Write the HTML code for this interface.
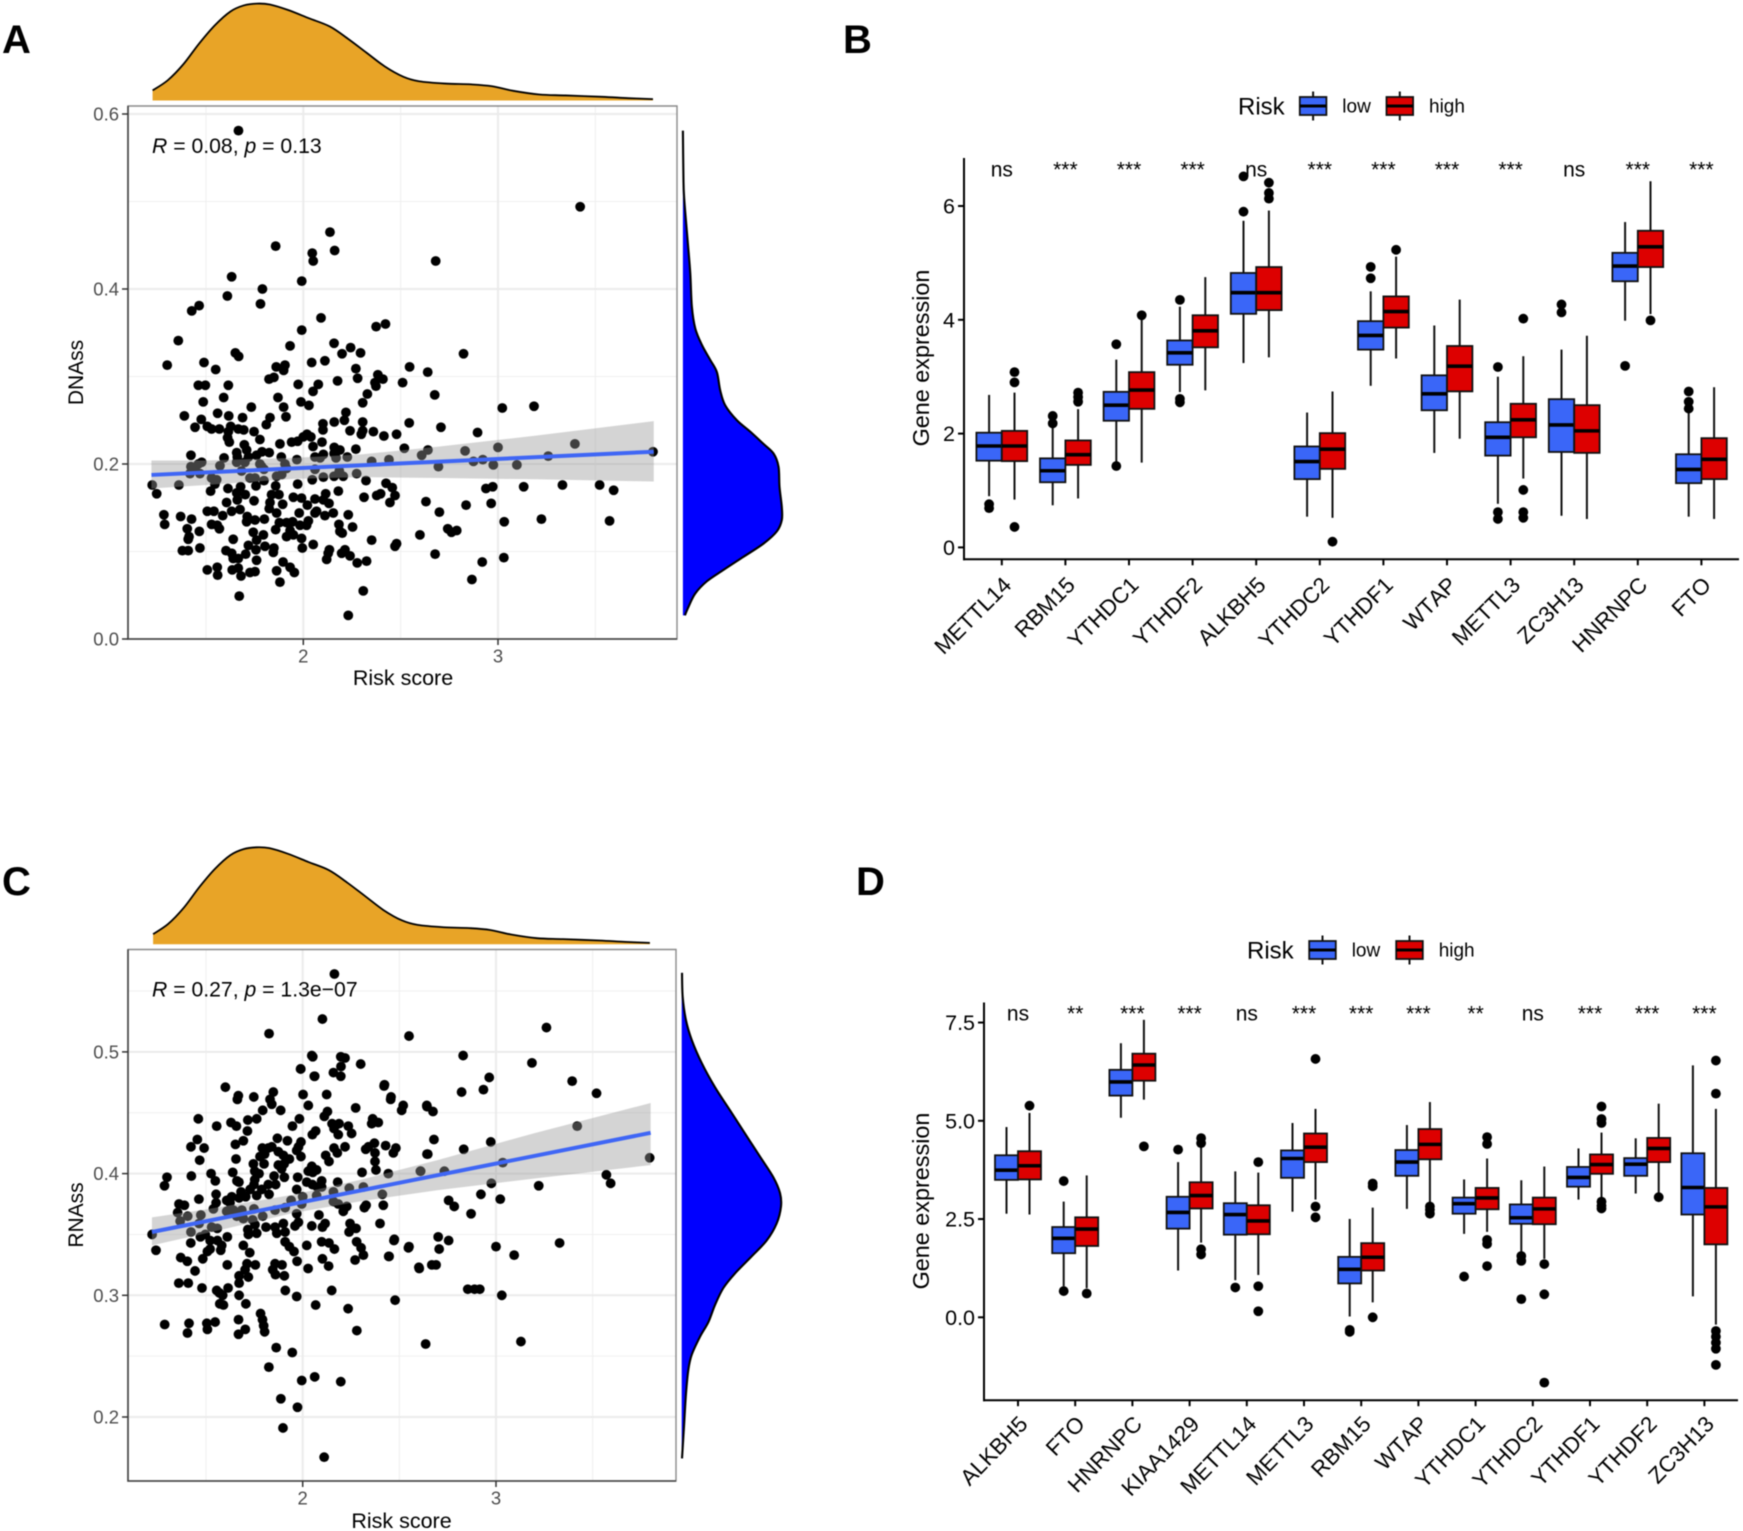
<!DOCTYPE html>
<html lang="en">
<head>
<meta charset="utf-8">
<title>Risk score correlations and m6A gene expression</title>
<style>
html,body{margin:0;padding:0;background:#fff;}
#figure{display:block;width:1743px;height:1531px;font-family:"Liberation Sans",sans-serif;filter:blur(0.45px);}
</style>
</head>
<body>
<svg id="figure" xmlns="http://www.w3.org/2000/svg" width="1743" height="1531" viewBox="0 0 1743 1531">
<rect width="1743" height="1531" fill="#fff"/>
<text x="2" y="53" font-size="40" font-weight="bold">A</text>
<text x="843" y="53" font-size="40" font-weight="bold">B</text>
<text x="2" y="895" font-size="40" font-weight="bold">C</text>
<text x="856" y="895" font-size="40" font-weight="bold">D</text>
<g id="panel-a"></g>
<g id="panel-b"></g>
<g id="panel-c"></g>
<g id="panel-d"></g>
</svg>
<script>
// ---------- shared top marginal density of risk score ----------
const riskDensityX = [1.226,1.304,1.384,1.465,1.546,1.626,1.694,1.761,1.828,1.922,2.030,2.137,2.231,2.325,2.419,2.513,2.594,2.728,2.863,2.970,3.078,3.212,3.347,3.535,3.669,3.796];
const riskDensityY = [.104,.209,.374,.588,.777,.919,.981,1.0,.991,.934,.848,.763,.635,.493,.351,.246,.199,.175,.166,.147,.100,.062,.052,.038,.024,.014];

// ---------- panel A data ----------
const dnassPoints = [[1.358,.341],[1.932,.335],[2.158,.338],[2.243,.333],[2.199,.326],[2.294,.327],[1.651,.327],[1.668,.323],[1.301,.313],[1.490,.316],[1.550,.308],[2.043,.316],[2.111,.318],[1.861,.311],[1.906,.313],[1.899,.307],[2.270,.309],[2.279,.298],[2.383,.302],[2.409,.297],[2.368,.293],[2.373,.289],[2.546,.311],[2.639,.305],[2.510,.293],[2.176,.295],[1.824,.297],[1.849,.299],[1.974,.291],[2.077,.291],[2.050,.283],[1.461,.290],[1.497,.290],[1.615,.290],[1.591,.276],[1.486,.271],[1.870,.276],[1.988,.271],[2.029,.267],[1.899,.265],[1.733,.265],[2.329,.280],[2.305,.270],[2.219,.259],[1.389,.255],[1.560,.258],[1.617,.255],[1.688,.253],[1.476,.251],[1.911,.254],[1.829,.253],[1.810,.245],[2.211,.250],[2.159,.248],[2.101,.246],[2.101,.239],[2.305,.248],[2.544,.247],[1.444,.242],[1.507,.243],[1.529,.240],[1.569,.240],[1.627,.243],[1.615,.237],[1.666,.240],[1.694,.239],[1.747,.237],[2.240,.238],[2.305,.238],[2.298,.234],[2.360,.237],[2.414,.232],[2.479,.234],[1.611,.230],[1.620,.225],[1.777,.228],[1.880,.223],[1.940,.225],[1.971,.226],[2.000,.231],[2.019,.234],[2.039,.231],[2.096,.225],[2.050,.220],[2.159,.219],[2.188,.216],[1.697,.222],[1.709,.216],[1.658,.213],[2.270,.217],[2.519,.218],[2.640,.216],[1.788,.214],[1.825,.213],[1.760,.210],[1.718,.208],[1.423,.210],[1.593,.207],[1.661,.208],[1.887,.208],[1.967,.205],[2.103,.211],[2.060,.208],[2.086,.207],[2.158,.212],[2.168,.207],[2.226,.208],[1.478,.202],[1.461,.200],[1.423,.197],[1.444,.195],[1.572,.198],[1.658,.202],[1.700,.202],[1.777,.200],[1.906,.200],[1.798,.194],[2.060,.194],[2.351,.203],[2.440,.205],[2.608,.210],[1.418,.189],[1.469,.189],[1.683,.192],[1.786,.197],[1.914,.195],[2.185,.192],[2.274,.189],[2.158,.186],[2.205,.186],[1.529,.184],[1.555,.182],[1.726,.184],[1.752,.184],[1.798,.181],[1.863,.186],[1.889,.188],[2.046,.182],[2.103,.185],[2.322,.181],[2.425,.178],[1.224,.176],[1.361,.176],[1.546,.177],[1.757,.175],[1.858,.175],[1.971,.177],[2.457,.173],[1.613,.172],[1.678,.174],[1.524,.169],[1.658,.167],[2.180,.169],[1.247,.166],[1.702,.165],[1.837,.165],[1.875,.165],[1.949,.162],[1.991,.161],[2.060,.160],[2.115,.166],[2.312,.162],[2.377,.164],[2.397,.166],[2.471,.164],[1.661,.159],[1.747,.158],[1.606,.156],[1.829,.156],[1.894,.154],[2.021,.153],[2.103,.159],[2.132,.155],[2.445,.156],[2.630,.157],[1.507,.146],[1.541,.146],[1.632,.146],[1.675,.148],[1.825,.149],[1.863,.144],[1.979,.144],[2.068,.146],[2.154,.144],[2.231,.142],[1.284,.142],[1.370,.140],[1.426,.137],[1.586,.141],[1.712,.140],[1.752,.136],[1.800,.137],[2.111,.141],[2.060,.144],[1.709,.134],[1.529,.131],[1.558,.130],[1.569,.126],[1.288,.131],[1.404,.126],[1.466,.123],[1.877,.133],[1.914,.133],[1.945,.134],[2.026,.135],[1.983,.130],[2.183,.131],[2.253,.128],[1.858,.125],[1.932,.124],[2.017,.130],[2.188,.123],[1.413,.117],[1.409,.114],[1.743,.122],[1.795,.119],[1.914,.117],[1.949,.119],[1.991,.115],[1.760,.113],[2.351,.113],[2.599,.119],[1.640,.114],[2.200,.121],[1.718,.107],[1.803,.106],[1.849,.104],[1.469,.104],[1.379,.101],[1.409,.101],[1.603,.101],[1.757,.102],[1.995,.104],[2.051,.108],[2.479,.109],[2.471,.106],[2.134,.102],[1.846,.099],[2.214,.102],[2.197,.098],[1.632,.098],[1.704,.097],[2.128,.098],[1.640,.092],[1.666,.092],[2.120,.091],[2.240,.095],[1.760,.090],[1.896,.088],[2.277,.087],[2.325,.089],[1.507,.079],[1.558,.082],[1.560,.073],[1.635,.079],[1.666,.081],[1.680,.072],[1.726,.076],[1.752,.077],[1.863,.078],[1.932,.082],[1.954,.076],[1.880,.065],[1.671,.049],[2.308,.055],[2.231,.027],[1.667,.581],[3.422,.494],[2.137,.465],[1.858,.449],[2.046,.441],[2.161,.444],[2.051,.432],[2.680,.432],[1.632,.414],[1.992,.409],[1.790,.400],[1.610,.392],[1.780,.383],[1.465,.381],[1.427,.375],[2.091,.367],[2.374,.357],[2.422,.360],[1.992,.353],[2.823,.326],[2.675,.279],[3.185,.266],[3.022,.264],[2.707,.242],[2.895,.236],[3.395,.223],[3.000,.219],[2.831,.215],[3.258,.209],[2.922,.205],[2.874,.203],[2.976,.199],[3.097,.199],[2.694,.197],[3.796,.214],[2.938,.172],[2.973,.174],[3.132,.174],[3.331,.176],[3.522,.176],[3.594,.170],[2.699,.145],[2.836,.153],[2.965,.155],[3.032,.134],[3.223,.137],[3.573,.135],[2.742,.126],[2.761,.122],[2.788,.124],[2.677,.097],[2.919,.088],[3.030,.093],[2.866,.068]];
const dnassFitX = [1.22,3.80];
const dnassFitY = [.1875,.214];
const dnassBandX = [1.22,1.5,1.95,2.3,2.7,3.2,3.8];
const dnassBandLo = [.172,.176,.183,.185,.184,.1825,.180];
const dnassBandHi = [.204,.204,.207,.211,.220,.2325,.249];
const dnassDensityY = [.581,.530,.505,.456,.418,.380,.355,.336,.319,.305,.284,.267,.250,.237,.223,.212,.197,.174,.151,.136,.123,.109,.094,.079,.066,.052,.037,.027];
const dnassDensity = [0,.005,.012,.047,.074,.090,.124,.191,.274,.341,.375,.425,.542,.676,.809,.910,.960,.970,.993,.993,.943,.809,.609,.408,.241,.124,.057,.02];
const dnassYTicks = [0,0.2,0.4,0.6];
const dnassYMinor = [0.1,0.3,0.5];

// ---------- panel C data ----------
const rnassPoints = [[2.102,.527],[1.826,.515],[2.550,.513],[2.047,.497],[2.052,.496],[2.197,.496],[2.219,.495],[2.300,.490],[2.198,.488],[1.990,.486],[2.060,.480],[2.159,.483],[2.197,.480],[2.421,.472],[1.600,.471],[1.848,.467],[2.002,.465],[2.124,.465],[1.667,.464],[1.662,.461],[1.747,.463],[2.457,.463],[2.455,.461],[1.831,.461],[1.840,.457],[2.029,.456],[1.793,.452],[1.886,.452],[2.520,.456],[2.512,.452],[2.274,.454],[2.643,.455],[2.128,.451],[2.112,.447],[1.460,.445],[1.716,.444],[1.762,.445],[1.983,.445],[1.629,.442],[1.657,.439],[1.555,.439],[1.947,.439],[1.714,.435],[2.152,.441],[2.188,.441],[2.162,.437],[2.236,.439],[2.184,.432],[2.253,.433],[2.357,.441],[2.391,.442],[2.362,.445],[2.067,.435],[2.050,.432],[1.869,.429],[1.455,.428],[1.693,.427],[1.921,.427],[1.991,.426],[1.978,.422],[1.652,.424],[1.422,.422],[1.490,.421],[1.791,.421],[1.840,.422],[1.822,.421],[2.219,.422],[2.162,.421],[2.179,.417],[2.371,.425],[2.340,.422],[2.326,.420],[2.429,.423],[2.482,.421],[2.469,.417],[1.874,.418],[1.900,.415],[1.969,.419],[1.991,.414],[2.374,.417],[2.643,.416],[2.119,.415],[2.136,.410],[1.803,.416],[1.779,.414],[1.467,.411],[1.655,.412],[1.931,.412],[1.745,.408],[1.800,.408],[2.374,.410],[1.874,.407],[1.904,.408],[1.891,.404],[2.047,.406],[2.029,.402],[2.072,.403],[2.052,.401],[2.379,.403],[1.752,.402],[1.774,.400],[1.424,.398],[1.526,.400],[1.638,.401],[1.852,.398],[1.905,.397],[1.974,.397],[2.307,.401],[2.443,.400],[2.610,.402],[1.298,.397],[1.285,.390],[1.548,.394],[1.660,.394],[1.670,.393],[1.752,.395],[1.748,.391],[1.822,.391],[1.860,.391],[2.021,.393],[2.050,.391],[2.076,.389],[2.098,.394],[2.098,.389],[2.181,.393],[1.969,.387],[1.788,.387],[1.728,.387],[1.762,.382],[1.826,.383],[1.681,.385],[1.552,.383],[1.463,.379],[1.705,.381],[1.671,.380],[1.633,.381],[1.607,.378],[1.624,.376],[1.552,.376],[1.538,.371],[1.360,.375],[1.388,.374],[1.353,.368],[1.405,.365],[1.366,.361],[1.473,.366],[1.607,.369],[1.641,.370],[1.685,.370],[1.659,.365],[1.693,.363],[1.748,.371],[1.741,.362],[1.793,.365],[1.857,.370],[1.909,.372],[1.940,.378],[2.000,.381],[1.995,.375],[2.072,.382],[2.159,.385],[2.159,.377],[2.184,.375],[2.241,.388],[2.314,.389],[2.412,.383],[2.417,.374],[2.328,.374],[2.319,.372],[2.228,.373],[2.210,.369],[1.969,.367],[2.084,.366],[1.529,.356],[1.558,.355],[1.422,.352],[1.464,.359],[1.221,.350],[1.716,.354],[1.719,.350],[1.753,.358],[1.762,.351],[1.810,.356],[1.857,.356],[1.866,.351],[1.900,.359],[1.909,.352],[1.960,.357],[1.978,.360],[2.047,.357],[2.102,.356],[2.116,.359],[2.245,.359],[2.276,.355],[2.240,.352],[2.400,.359],[1.610,.348],[1.471,.348],[1.496,.350],[1.521,.345],[1.559,.345],[1.581,.341],[1.421,.343],[1.521,.338],[1.507,.336],[1.576,.337],[1.693,.341],[1.909,.344],[1.931,.340],[1.955,.336],[2.021,.341],[2.098,.344],[2.136,.343],[2.164,.338],[2.279,.344],[2.302,.339],[2.314,.333],[2.271,.329],[2.472,.345],[2.547,.339],[1.241,.337],[1.726,.335],[1.369,.331],[1.403,.328],[1.483,.330],[1.971,.328],[2.102,.330],[2.447,.332],[1.755,.325],[1.712,.326],[1.857,.326],[1.893,.325],[1.610,.325],[2.134,.324],[2.028,.322],[2.603,.322],[1.443,.320],[1.702,.321],[1.845,.321],[1.859,.317],[1.905,.316],[1.671,.316],[1.719,.315],[1.359,.310],[1.408,.310],[1.671,.310],[1.479,.306],[1.614,.306],[1.555,.304],[1.569,.302],[1.586,.300],[1.910,.304],[2.150,.304],[1.671,.300],[1.969,.299],[2.478,.296],[1.571,.293],[1.590,.292],[1.706,.293],[2.067,.292],[2.235,.289],[1.782,.285],[1.286,.276],[1.412,.277],[1.504,.277],[1.507,.272],[1.547,.278],[1.668,.280],[1.792,.280],[1.798,.275],[1.803,.270],[1.703,.272],[1.668,.268],[1.404,.269],[2.280,.271],[1.863,.257],[1.946,.253],[2.636,.260],[3.129,.262],[1.825,.241],[1.995,.230],[2.062,.233],[2.197,.229],[1.887,.215],[1.973,.208],[1.898,.191],[2.111,.167],[2.164,.564],[3.261,.520],[2.830,.497],[3.186,.491],[1.989,.486],[2.062,.480],[2.965,.479],[2.423,.473],[3.394,.476],[2.822,.467],[2.935,.469],[3.520,.466],[2.642,.456],[2.674,.451],[3.420,.439],[2.833,.420],[2.973,.426],[2.679,.428],[2.647,.416],[3.035,.409],[3.795,.413],[2.609,.402],[2.733,.402],[3.571,.399],[3.593,.392],[2.976,.392],[3.221,.390],[2.922,.383],[3.022,.379],[2.755,.378],[2.784,.373],[2.871,.367],[3.329,.343],[2.701,.348],[2.755,.345],[3.000,.340],[2.706,.338],[3.094,.333],[2.550,.340],[2.474,.346],[2.445,.332],[2.601,.323],[2.668,.325],[2.690,.325],[2.854,.305],[2.889,.305],[2.916,.305],[3.030,.300]];
const rnassFitX = [1.22,3.80];
const rnassFitY = [.352,.4335];
const rnassBandX = [1.22,1.5,1.95,2.3,2.7,3.2,3.8];
const rnassBandLo = [.341,.351,.3676,.3773,.3864,.396,.407];
const rnassBandHi = [.364,.3706,.3826,.3949,.4112,.4333,.458];
const rnassDensityY = [.565,.545,.526,.510,.491,.471,.452,.433,.414,.397,.384,.373,.359,.345,.332,.318,.306,.292,.278,.266,.251,.239,.219,.192,.166];
const rnassDensity = [.003,.01,.043,.10,.2,.334,.485,.635,.786,.92,.987,.997,.953,.853,.702,.535,.418,.334,.268,.184,.1,.067,.043,.023,.003];
const rnassYTicks = [0.2,0.3,0.4,0.5];
const rnassYMinor = [0.25,0.35,0.45,0.55];

const riskXTicks = [2,3];
const riskXMinor = [1.5,2.5,3.5];

// ---------- panel B data: [whisker-low, q1, median, q3, whisker-high, outliers] ----------
const bGenes = ["METTL14","RBM15","YTHDC1","YTHDF2","ALKBH5","YTHDC2","YTHDF1","WTAP","METTL3","ZC3H13","HNRNPC","FTO"];
const bSignif = ["ns","***","***","***","ns","***","***","***","***","ns","***","***"];
const bYTicks = [0,2,4,6];
const bLow = [
[.90,1.524,1.782,2.016,2.68,[.76,.69]],
[.74,1.145,1.347,1.565,2.12,[2.31,2.18]],
[1.51,2.226,2.5,2.734,3.3,[3.57,1.43]],
[2.73,3.21,3.42,3.637,4.23,[4.35,2.61,2.55]],
[3.24,4.105,4.476,4.823,5.74,[6.52,5.9]],
[.54,1.2,1.508,1.774,2.37,[]],
[2.84,3.476,3.726,3.976,4.5,[4.93,4.73]],
[1.66,2.41,2.70,3.024,3.9,[]],
[.766,1.613,1.935,2.2,3.0,[3.17,.62,.5]],
[.556,1.677,2.153,2.605,3.476,[4.27,4.13]],
[3.984,4.677,4.944,5.177,5.718,[3.19]],
[.54,1.129,1.371,1.637,2.395,[2.74,2.56,2.44]]];
const bHigh = [
[.84,1.516,1.782,2.048,2.72,[3.08,2.90,.36]],
[.86,1.45,1.63,1.88,2.43,[2.72,2.64,2.56]],
[1.49,2.435,2.766,3.08,4.05,[4.08]],
[2.76,3.516,3.806,4.08,4.75,[]],
[3.34,4.17,4.476,4.927,5.92,[6.41,6.23,6.13]],
[.52,1.38,1.726,2.008,2.74,[.1]],
[3.32,3.863,4.145,4.411,5.11,[5.23]],
[1.91,2.742,3.185,3.54,4.355,[]],
[1.21,1.935,2.242,2.524,3.36,[4.02,1.01,.62,.52]],
[.5,1.661,2.048,2.5,3.72,[]],
[4.1,4.927,5.282,5.565,6.435,[3.99]],
[.5,1.2,1.548,1.92,2.815,[]]];

// ---------- panel D data ----------
const dGenes = ["ALKBH5","FTO","HNRNPC","KIAA1429","METTL14","METTL3","RBM15","WTAP","YTHDC1","YTHDC2","YTHDF1","YTHDF2","ZC3H13"];
const dSignif = ["ns","**","***","***","ns","***","***","***","**","ns","***","***","***"];
const dYTicks = [0,2.5,5,7.5];
const dYTickLabels = ["0.0","2.5","5.0","7.5"];
const dLow = [
[2.636,3.497,3.744,4.123,4.841,[]],
[.79,1.631,2.01,2.297,2.944,[3.467,.667]],
[5.077,5.641,5.99,6.297,6.974,[]],
[1.19,2.256,2.667,3.067,3.949,[4.267]],
[.944,2.103,2.615,2.903,3.713,[.759]],
[2.687,3.549,4.041,4.246,4.944,[]],
[.02,.862,1.221,1.538,2.503,[-.32,-.37]],
[2.759,3.6,3.949,4.256,4.892,[]],
[2.123,2.636,2.892,3.046,3.508,[1.036]],
[1.662,2.379,2.533,2.872,3.487,[1.56,1.436,.462]],
[2.995,3.323,3.559,3.826,4.297,[]],
[3.149,3.6,3.897,4.051,4.554,[]],
[.533,2.615,3.303,4.174,6.41,[]]];
const dHigh = [
[2.615,3.508,3.856,4.226,5.2,[5.385]],
[.74,1.815,2.246,2.544,3.61,[.605]],
[5.538,6.02,6.42,6.708,7.569,[4.349]],
[1.9,2.769,3.097,3.436,4.38,[4.56,4.43,1.73,1.6]],
[1.077,2.113,2.451,2.851,3.682,[3.949,.79,.154]],
[2.995,3.949,4.328,4.677,5.303,[6.574,2.82,2.544]],
[.38,1.19,1.528,1.887,2.79,[3.405,3.333,0]],
[2.892,4.02,4.4,4.79,5.477,[2.82,2.74,2.636]],
[2.174,2.749,3.036,3.292,4.041,[4.585,4.41,1.97,1.867,1.303]],
[1.487,2.369,2.759,3.046,3.836,[1.354,.585,-1.662]],
[2.995,3.651,3.887,4.144,4.7,[5.364,5.046,4.944,2.944,2.841,2.77]],
[3.149,3.949,4.297,4.564,5.436,[3.056]],
[-.185,1.856,2.81,3.292,5.303,[6.533,5.692,-.349,-.492,-.646,-.8,-1.21]]];

// ---------- drawing helpers ----------
const SVGNS = "http://www.w3.org/2000/svg";
function mk(parent, tag, attrs, name, text) {
  const el = document.createElementNS(SVGNS, tag);
  for (const k in attrs) el.setAttribute(k, attrs[k]);
  
  
  if (text !== undefined) el.textContent = text;
  parent.appendChild(el);
  return el;
}
function smooth(pts) {
  let d = "M" + pts[0][0].toFixed(2) + " " + pts[0][1].toFixed(2);
  for (let i = 0; i < pts.length - 1; i++) {
    const p0 = pts[Math.max(i - 1, 0)], p1 = pts[i], p2 = pts[i + 1], p3 = pts[Math.min(i + 2, pts.length - 1)];
    const c1x = p1[0] + (p2[0] - p0[0]) / 6, c1y = p1[1] + (p2[1] - p0[1]) / 6;
    const c2x = p2[0] - (p3[0] - p1[0]) / 6, c2y = p2[1] - (p3[1] - p1[1]) / 6;
    d += "C" + c1x.toFixed(2) + " " + c1y.toFixed(2) + " " + c2x.toFixed(2) + " " + c2y.toFixed(2) + " " + p2[0].toFixed(2) + " " + p2[1].toFixed(2);
  }
  return d;
}

function drawScatter(cfg) {
  const g = document.getElementById(cfg.id);
  const sx = v => cfg.x2 + cfg.xk * (v - 2);
  const sy = v => cfg.yOrigin - cfg.yk * (v - cfg.yBase);
  const L = cfg.left, R = cfg.right, T = cfg.top, B = cfg.bottom;
  mk(g, "rect", {x: L, y: T, width: R - L, height: B - T, fill: "#fff"}, "plot-background");
  cfg.yMinor.forEach(v => mk(g, "line", {x1: L, x2: R, y1: sy(v), y2: sy(v), stroke: "#efefef", "stroke-width": 1}, "minor-gridline-y"));
  riskXMinor.forEach(v => mk(g, "line", {x1: sx(v), x2: sx(v), y1: T, y2: B, stroke: "#efefef", "stroke-width": 1}, "minor-gridline-x"));
  cfg.yTicks.forEach(v => mk(g, "line", {x1: L, x2: R, y1: sy(v), y2: sy(v), stroke: "#ebebeb", "stroke-width": 2}, "major-gridline-y"));
  riskXTicks.forEach(v => mk(g, "line", {x1: sx(v), x2: sx(v), y1: T, y2: B, stroke: "#ebebeb", "stroke-width": 2}, "major-gridline-x"));
  cfg.points.forEach(p => mk(g, "circle", {cx: sx(p[0]), cy: sy(p[1]), r: 4.9, fill: "#000"}, "sample-point"));
  let band = "";
  cfg.bandX.forEach((v, i) => { band += (i ? "L" : "M") + sx(v).toFixed(2) + " " + sy(cfg.bandHi[i]).toFixed(2); });
  for (let i = cfg.bandX.length - 1; i >= 0; i--) band += "L" + sx(cfg.bandX[i]).toFixed(2) + " " + sy(cfg.bandLo[i]).toFixed(2);
  mk(g, "path", {d: band + "Z", fill: "#999", "fill-opacity": .42}, "confidence-band");
  mk(g, "line", {x1: sx(cfg.fitX[0]), y1: sy(cfg.fitY[0]), x2: sx(cfg.fitX[1]), y2: sy(cfg.fitY[1]), stroke: "#3f66f5", "stroke-width": 4}, "regression-line");
  mk(g, "path", {d: "M" + L + " " + B + "L" + L + " " + T + "L" + R + " " + T + "L" + R + " " + B + "Z", fill: "none", stroke: "#8a8a8a", "stroke-width": 1.4}, "panel-border");
  mk(g, "path", {d: "M" + L + " " + T + "L" + L + " " + B + "L" + R + " " + B, fill: "none", stroke: "#444", "stroke-width": 1.6}, "axis-lines");

  cfg.yTicks.forEach((v, i) => {
    mk(g, "line", {x1: L - 6, x2: L, y1: sy(v), y2: sy(v), stroke: "#333", "stroke-width": 1.5}, "y-tick-mark");
    mk(g, "text", {x: L - 9, y: sy(v) + 6.5, "text-anchor": "end", "font-size": 18.5, fill: "#4d4d4d"}, "y-tick-label", v.toFixed(1));
  });
  riskXTicks.forEach(v => {
    mk(g, "line", {x1: sx(v), x2: sx(v), y1: B, y2: B + 6, stroke: "#333", "stroke-width": 1.5}, "x-tick-mark");
    mk(g, "text", {x: sx(v), y: B + 23.5, "text-anchor": "middle", "font-size": 18.5, fill: "#4d4d4d"}, "x-tick-label", String(v));
  });
  mk(g, "text", {x: cfg.xTitleX, y: cfg.xTitleY, "text-anchor": "middle", "font-size": 21.5, fill: "#000"}, "x-axis-title", "Risk score");
  mk(g, "text", {transform: "translate(83 " + cfg.yTitleY + ") rotate(-90)", "text-anchor": "middle", "font-size": 21, fill: "#000"}, "y-axis-title", cfg.yTitle);

  const ann = mk(g, "text", {x: 152, y: cfg.annY, "font-size": 21.2, fill: "#000"}, "correlation-annotation");
  const r = document.createElementNS(SVGNS, "tspan"); r.setAttribute("font-style", "italic"); r.textContent = "R"; ann.appendChild(r);
  ann.appendChild(document.createTextNode(" = " + cfg.rText + ", "));
  const pp = document.createElementNS(SVGNS, "tspan"); pp.setAttribute("font-style", "italic"); pp.textContent = "p"; ann.appendChild(pp);
  ann.appendChild(document.createTextNode(" = " + cfg.pText));

  // top marginal density
  const topPts = riskDensityX.map((v, i) => [sx(v), cfg.topBase - riskDensityY[i] * 96.9]);
  const curve = smooth(topPts);
  const first = topPts[0], last = topPts[topPts.length - 1];
  mk(g, "path", {d: curve + "L" + last[0].toFixed(2) + " " + cfg.topBase + "L" + first[0].toFixed(2) + " " + cfg.topBase + "Z", fill: "#e8a427"}, "risk-density-fill");
  mk(g, "path", {d: curve, fill: "none", stroke: "#000", "stroke-width": 1.8}, "risk-density-curve");

  // right marginal density
  const sidePts = cfg.sideY.map((v, i) => [cfg.sideBase + cfg.sideD[i] * 99.6, sy(v)]);
  const sideCurve = smooth(sidePts);
  const sFirst = sidePts[0], sLast = sidePts[sidePts.length - 1];
  mk(g, "path", {d: sideCurve + "L" + cfg.sideBase + " " + sLast[1].toFixed(2) + "L" + cfg.sideBase + " " + sFirst[1].toFixed(2) + "Z", fill: "#0000ff"}, cfg.sideName + "-fill");
  mk(g, "path", {d: sideCurve, fill: "none", stroke: "#000", "stroke-width": 2.1}, cfg.sideName + "-curve");
}

function drawBoxes(cfg) {
  const g = document.getElementById(cfg.id);
  const sx = i => cfg.x0 + cfg.step * i;
  const sy = v => cfg.y0 - cfg.yk * v;
  const half = cfg.boxW / 2;
  function series(stats, off, fill, name) {
    stats.forEach((s, i) => {
      const cx = sx(i) + off;
      mk(g, "line", {x1: cx, x2: cx, y1: sy(s[0]), y2: sy(s[1]), stroke: "#111", "stroke-width": 2}, name + "-whisker-low");
      mk(g, "line", {x1: cx, x2: cx, y1: sy(s[3]), y2: sy(s[4]), stroke: "#111", "stroke-width": 2}, name + "-whisker-high");
      mk(g, "rect", {x: cx - half, y: sy(s[3]), width: cfg.boxW, height: sy(s[1]) - sy(s[3]), fill: fill, stroke: "#111", "stroke-width": 1.8}, name + "-box");
      mk(g, "line", {x1: cx - half, x2: cx + half, y1: sy(s[2]), y2: sy(s[2]), stroke: "#000", "stroke-width": 3.6}, name + "-median");
      s[5].forEach(o => mk(g, "circle", {cx: cx, cy: sy(o), r: 4.9, fill: "#000"}, name + "-outlier"));
    });
  }
  series(cfg.low, -half, "#3a66f8", "low-risk");
  series(cfg.high, half, "#dd0000", "high-risk");

  mk(g, "line", {x1: cfg.axisX, x2: cfg.axisX, y1: cfg.axisTop, y2: cfg.axisY + 1, stroke: "#000", "stroke-width": 2}, "y-axis-line");
  mk(g, "line", {x1: cfg.axisX - 1, x2: cfg.axisRight, y1: cfg.axisY, y2: cfg.axisY, stroke: "#000", "stroke-width": 2}, "x-axis-line");
  cfg.yTicks.forEach((v, i) => {
    mk(g, "line", {x1: cfg.axisX - 6, x2: cfg.axisX, y1: sy(v), y2: sy(v), stroke: "#000", "stroke-width": 2}, "y-tick-mark");
    mk(g, "text", {x: cfg.axisX - 9, y: sy(v) + 7.5, "text-anchor": "end", "font-size": 21.5, fill: "#000"}, "y-tick-label", cfg.yLabels[i]);
  });
  cfg.genes.forEach((name, i) => {
    const x = sx(i);
    mk(g, "line", {x1: x, x2: x, y1: cfg.axisY, y2: cfg.axisY + 6, stroke: "#000", "stroke-width": 2}, "x-tick-mark");
    mk(g, "text", {transform: "translate(" + (x + 11) + " " + (cfg.axisY + cfg.labelDrop) + ") rotate(" + cfg.rot + ")", "text-anchor": "end", "font-size": 22.3, "style": "font-kerning:none", fill: "#000"}, "gene-label", name);
    mk(g, "text", {x: x, y: cfg.sigY, "text-anchor": "middle", "font-size": 21, fill: "#000"}, "significance-label", cfg.signif[i]);
  });
  mk(g, "text", {transform: "translate(" + cfg.yTitleX + " " + cfg.yTitleY + ") rotate(-90)", "text-anchor": "middle", "font-size": 23.4, fill: "#000"}, "y-axis-title", "Gene expression");

  // legend
  const leg = mk(g, "g", {}, "risk-legend");
  mk(leg, "text", {x: cfg.legTitleX, y: cfg.legY + 8.5, "font-size": 24, fill: "#000"}, "legend-title", "Risk");
  [[cfg.legLowX, "#3a66f8", "low", "low-risk"], [cfg.legHighX, "#dd0000", "high", "high-risk"]].forEach(e => {
    const cx = e[0] + 13.3;
    mk(leg, "line", {x1: cx, x2: cx, y1: cfg.legY - 14.5, y2: cfg.legY + 14.5, stroke: "#111", "stroke-width": 2}, e[3] + "-legend-whisker");
    mk(leg, "rect", {x: e[0], y: cfg.legY - 9, width: 26.6, height: 18, fill: e[1], stroke: "#111", "stroke-width": 1.8}, e[3] + "-legend-key");
    mk(leg, "line", {x1: e[0], x2: e[0] + 26.6, y1: cfg.legY, y2: cfg.legY, stroke: "#000", "stroke-width": 3}, e[3] + "-legend-median");
    mk(leg, "text", {x: e[0] + 42.5, y: cfg.legY + 6.5, "font-size": 19, fill: "#000"}, e[3] + "-legend-label", e[2]);
  });
}

drawScatter({id: "panel-a", x2: 303.3, xk: 194.7, yOrigin: 639, yBase: 0, yk: 875, left: 128, right: 677, top: 106, bottom: 639,
  points: dnassPoints, bandX: dnassBandX, bandLo: dnassBandLo, bandHi: dnassBandHi, fitX: dnassFitX, fitY: dnassFitY,
  yTicks: dnassYTicks, yMinor: dnassYMinor, yTitle: "DNAss", yTitleY: 372.5, xTitleX: 403, xTitleY: 685,
  annY: 153, rText: "0.08", pText: "0.13", topBase: 100.5, sideBase: 682.9, sideY: dnassDensityY, sideD: dnassDensity, sideName: "dnass-density"});

drawScatter({id: "panel-c", x2: 302.7, xk: 193.3, yOrigin: 1417, yBase: 0.2, yk: 1217, left: 128, right: 676, top: 949.5, bottom: 1481,
  points: rnassPoints, bandX: rnassBandX, bandLo: rnassBandLo, bandHi: rnassBandHi, fitX: rnassFitX, fitY: rnassFitY,
  yTicks: rnassYTicks, yMinor: rnassYMinor, yTitle: "RNAss", yTitleY: 1215, xTitleX: 401.5, xTitleY: 1528,
  annY: 996.5, rText: "0.27", pText: "1.3e\u221207", topBase: 944.2, sideBase: 681.7, sideY: rnassDensityY, sideD: rnassDensity, sideName: "rnass-density"});

drawBoxes({id: "panel-b", x0: 1001.8, step: 63.6, y0: 547.4, yk: 56.9, boxW: 25.4, low: bLow, high: bHigh, genes: bGenes, signif: bSignif,
  yTicks: bYTicks, yLabels: bYTicks.map(String), axisX: 964, axisY: 559.3, axisTop: 158, axisRight: 1739, rot: -45, labelDrop: 27, sigY: 176.5,
  yTitleX: 929, yTitleY: 358, legTitleX: 1238, legY: 106, legLowX: 1299.8, legHighX: 1386.5});

drawBoxes({id: "panel-d", x0: 1018, step: 57.2, y0: 1317.3, yk: 39.3, boxW: 23, low: dLow, high: dHigh, genes: dGenes, signif: dSignif,
  yTicks: dYTicks, yLabels: dYTickLabels, axisX: 984, axisY: 1400.2, axisTop: 1002.5, axisRight: 1738, rot: -46, labelDrop: 25, sigY: 1020.5,
  yTitleX: 929, yTitleY: 1201, legTitleX: 1247, legY: 950, legLowX: 1309.2, legHighX: 1396.2});
</script>
</body>
</html>
